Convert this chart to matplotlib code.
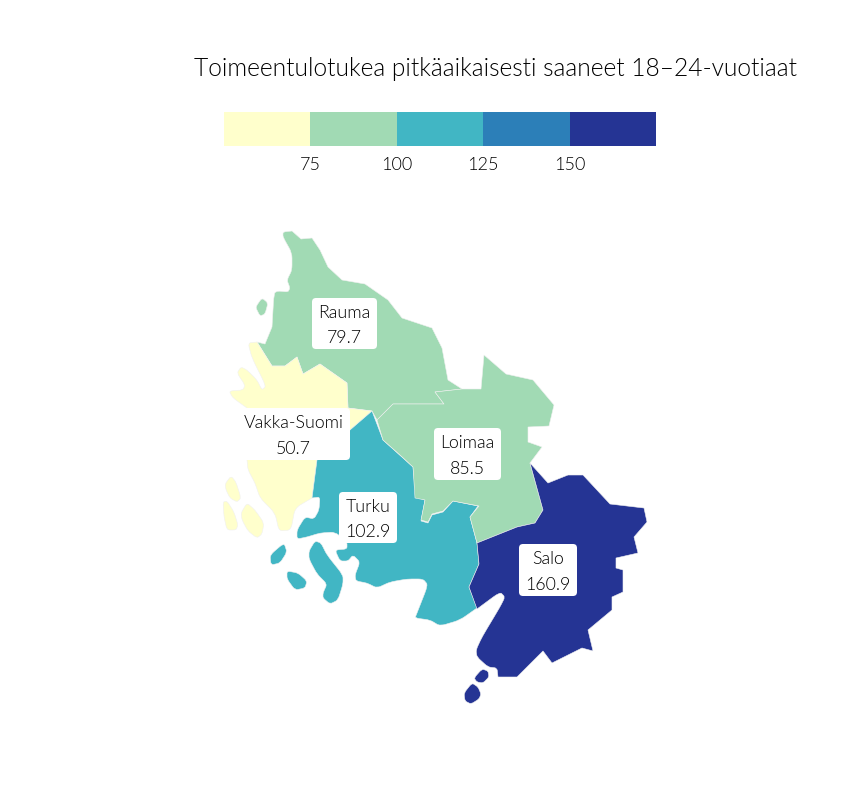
import matplotlib
matplotlib.use("Agg")
import matplotlib.pyplot as plt
from matplotlib.patches import PathPatch, Rectangle, FancyBboxPatch
from matplotlib.path import Path

plt.rcParams['font.family'] = ['Lato', 'DejaVu Sans']
plt.rcParams['font.weight'] = 300

title = "Toimeentulotukea pitkäaikaisesti saaneet 18–24-vuotiaat"
breaks = [50, 75, 100, 125, 150, 175]
tick_values = [75, 100, 125, 150]
palette = ["#ffffcc", "#a1dab4", "#41b6c4", "#2c7fb8", "#253494"]

regions = ["Rauma", "Vakka-Suomi", "Turku", "Loimaa", "Salo"]
values = [79.7, 50.7, 102.9, 85.5, 160.9]
label_boxes = [(312, 298, 377, 349), (237, 408, 350, 460), (339, 492, 397, 543),
               (434, 428, 501, 480), (519, 544, 577, 596)]

# Outline geometry, traced in reference pixels; a third element marks a rounded coastal vertex
rauma = [[(283,232,1),(292,231),(301,239),(312,238),(320,250),(328,267),(342,280),(365,284),(388,300),
          (402,318),(432,328),(442,348),(448,380),(462,389),(435,392),(444,404),(393,404),(377,420),
          (372,411),(348,408),(347,383),(320,364),(303,374),(297,357),(285,366),(272,366),(257,342),
          (265,344),(272,327),(274,293,1),(278,291,1),(288,292,1),(290,288,1),(287,280,1),(292,270,1),(292,253,1),(283,237,1)],
         [(257,305,1),(262,298,1),(268,303,1),(265,314,1),(260,316,1),(256,308,1)]]
vakka = [[(248,343,1),(257,342),(272,366),(285,366),(297,357),(303,374),(320,364),(347,383),(348,408),
          (372,411),(350,430),(317,460),(312,498),(295,508,1),(291,530,1),(279,531,1),(275,513,1),(260,498,1),
          (255,483,1),(248,470,1),(247,460),(247,408),(233,398,1),(229,391,1),(243,390,1),(245,385,1),(237,373,1),
          (241,367,1),(247,370,1),(257,380,1),(262,390,1),(266,386,1),(252,358,1)],
         [(225,484,1),(231,476,1),(236,482,1),(241,498,1),(237,502,1),(230,498,1),(226,490,1)],
         [(223,502,1),(227,501,1),(234,512,1),(238,525,1),(236,530,1),(227,530,1),(224,517,1)],
         [(241,513,1),(247,503,1),(255,510,1),(264,523,1),(262,534,1),(257,538,1),(248,531,1),(242,520,1)]]
turku = [[(372,411),(383,440),(413,467),(416,497),(425,500),(421,521),(428,523),(432,515),(443,512),
          (453,501),(478,506),(470,517),(477,543),(479,564),(469,587),(477,608),(460,620,1),(440,626,1),
          (430,620,1),(415,618,1),(417,613),(428,585,1),(423,579,1),(407,579,1),(390,582,1),(377,588,1),(367,583,1),
          (356,581,1),(355,575,1),(360,562,1),(353,555,1),(348,561,1),(340,561,1),(335,550,1),(347,549,1),(347,542,1),
          (335,532,1),(320,533,1),(307,537,1),(297,539,1),(297,530,1),(305,517,1),(314,519,1),(319,510,1),(320,497,1),
          (312,498),(317,460),(350,430)],
         [(270,555,1),(284,543,1),(287,552,1),(280,563,1),(271,565,1)],
         [(287,571,1),(298,573,1),(307,581,1),(305,588,1),(295,590,1),(287,579,1)],
         [(309,551,1),(315,541,1),(321,543,1),(327,555,1),(343,575,1),(343,584,1),(338,600,1),(330,604,1),(323,598,1),
          (323,593,1),(327,584,1),(317,574,1),(309,559,1)]]
loimaa = [[(462,389),(481,389),(484,355),(506,374),(533,380),(554,405),(549,426),(528,427),(528,442),
           (542,447),(530,463),(543,510),(535,523),(517,527),(477,543),(470,517),(479,506),(453,501),
           (443,511),(432,514),(428,522),(421,520),(425,500),(415,498),(413,467),(400,455),(383,440),
           (377,420),(393,404),(444,404),(435,392)]]
salo = [[(530,463),(548,483),(568,475),(583,475),(610,504),(644,508),(647,522),(634,537),(638,553),
         (616,558),(616,568),(623,570),(623,592),(612,597),(612,610),(588,630),(593,651),(582,648),
         (552,663),(543,651),(517,677),(498,677),(497,668,1),(488,667,1),(477,657,1),(476,650,1),(482,637,1),
         (500,607,1),(505,597,1),(500,592,1),(477,609),(469,587),(479,564),(477,543),(517,527),(535,523),(543,510)],
        [(474,678,1),(482,669,1),(488,671,1),(489,677,1),(483,683,1),(477,682,1)],
        [(464,693,1),(472,683,1),(478,687,1),(481,694,1),(479,699,1),(471,704,1),(465,701,1)]]
shapes = [rauma, vakka, turku, loimaa, salo]


def colour_for(v):
    for i in range(len(palette)):
        if v < breaks[i + 1]:
            return palette[i]
    return palette[-1]


def ring_path(ring, t=0.3):
    n = len(ring)
    verts, codes = [], []
    def lerp(a, b):
        return (a[0] + (b[0] - a[0]) * t, a[1] + (b[1] - a[1]) * t)
    for i, p in enumerate(ring):
        prev, nxt = ring[i - 1], ring[(i + 1) % n]
        if len(p) == 3:
            verts += [lerp(p, prev), p[:2], lerp(p, nxt)]
            codes += [Path.LINETO, Path.CURVE3, Path.CURVE3]
        else:
            verts.append(p[:2])
            codes.append(Path.LINETO)
    codes[0] = Path.MOVETO
    verts.append(verts[0])
    codes.append(Path.CLOSEPOLY)
    return Path(verts, codes)


W, H = 864, 792
fig = plt.figure(figsize=(W / 100, H / 100), dpi=100, facecolor="white")
ax = fig.add_axes([0, 0, 1, 1])
ax.set_xlim(0, W)
ax.set_ylim(H, 0)
ax.axis("off")

for shape, v in zip(shapes, values):
    for ring in shape:
        ax.add_patch(PathPatch(ring_path(ring), facecolor=colour_for(v),
                               edgecolor="#f0f0f0", linewidth=0.4, joinstyle="round"))

for name, v, (x0, y0, x1, y1) in zip(regions, values, label_boxes):
    ax.add_patch(FancyBboxPatch((x0 + 4, y0 + 4), x1 - x0 - 8, y1 - y0 - 8,
                                boxstyle="round,pad=4,rounding_size=4",
                                facecolor="white", edgecolor="none", zorder=3))
    cx, cy = (x0 + x1) / 2, (y0 + y1) / 2
    ax.text(cx, cy - 6, name, ha="center", va="baseline", fontsize=12.8, color="black", zorder=4)
    ax.text(cx, cy + 19.5, f"{v:.1f}", ha="center", va="baseline", fontsize=12.8, color="black", zorder=4)

ax.text(496, 69, title, ha="center", va="center", fontsize=17.65, color="black")

# Colour key
cax = fig.add_axes([224 / W, 1 - 146 / H, 432 / W, 34 / H])
cax.set_xlim(breaks[0], breaks[-1])
cax.set_ylim(0, 1)
for i, c in enumerate(palette):
    cax.add_patch(Rectangle((breaks[i], 0), breaks[i + 1] - breaks[i], 1, facecolor=c, edgecolor="none"))
cax.set_yticks([])
cax.set_xticks(tick_values)
cax.tick_params(axis="x", length=0, pad=8, labelsize=13, labelcolor="black")
for s in cax.spines.values():
    s.set_visible(False)

fig.savefig("out.png", dpi=100)
